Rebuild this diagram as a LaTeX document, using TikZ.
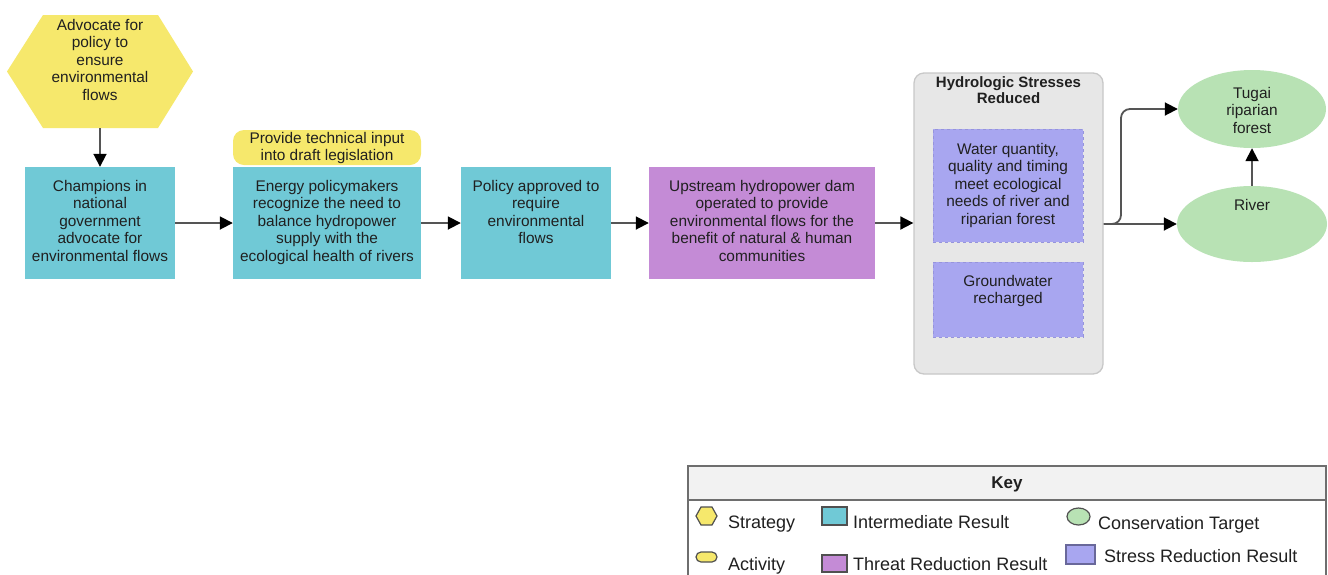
\documentclass[tikz,border=0pt]{standalone}
\usepackage{fontspec}
\setmainfont{Liberation Sans}
\usetikzlibrary{shapes.geometric,arrows.meta}

\definecolor{stratY}{RGB}{246,232,108}
\definecolor{interT}{RGB}{112,201,214}
\definecolor{threatP}{RGB}{196,139,214}
\definecolor{stressL}{RGB}{168,166,240}
\definecolor{stressD}{RGB}{150,148,220}
\definecolor{targetG}{RGB}{184,226,180}
\definecolor{groupF}{RGB}{231,231,231}
\definecolor{groupD}{RGB}{200,200,200}
\definecolor{ink}{RGB}{32,32,32}
\definecolor{wire}{RGB}{85,85,85}
\definecolor{keyD}{RGB}{110,110,110}
\definecolor{iconD}{RGB}{80,80,80}

\begin{document}
\begin{tikzpicture}[x=1pt,y=-1pt,
  shapebox/.style={rectangle, inner sep=0pt},
  bodytext/.style={font=\fontsize{15.4}{17.5}\selectfont, text=ink, align=center, inner sep=0pt, anchor=north},
  titletext/.style={font=\fontsize{15}{16.5}\selectfont\bfseries, text=ink, align=center, inner sep=0pt, anchor=north},
  keytext/.style={font=\fontsize{18}{20}\selectfont, text=ink, inner sep=0pt, anchor=base west},
  flow/.style={draw=wire, line width=1.8pt, -{Triangle[length=13pt,width=13pt,color=black]}},
  icon/.style={draw=iconD, line width=1.2pt}
]
\clip (0,0) rectangle (1328,574);
\fill[white] (0,0) rectangle (1328,574);

% strategy hexagon
\fill[stratY] (7,71.5) -- (43,15) -- (158,15) -- (193,71.5) -- (158,128) -- (43,128) -- cycle;
\node[shapebox, minimum width=186pt, minimum height=113pt] (strat) at (100,71.5) {};
\node[bodytext] (stratT) at (100,19) {Advocate for\\policy to\\ensure\\environmental\\flows};

% activity
\node[shapebox, fill=stratY, rounded corners=11pt, minimum width=188pt, minimum height=35pt] (act) at (327,147.5) {};
\node[bodytext] (actT) at (327,132) {Provide technical input\\into draft legislation};

% results chain
\node[shapebox, fill=interT, minimum width=150pt, minimum height=112pt] (champ) at (100,223) {};
\node[bodytext] (champT) at (100,180) {Champions in\\national\\government\\advocate for\\environmental flows};

\node[shapebox, fill=interT, minimum width=188pt, minimum height=112pt] (energy) at (327,223) {};
\node[bodytext] (energyT) at (327,180) {Energy policymakers\\recognize the need to\\balance hydropower\\supply with the\\ecological health of rivers};

\node[shapebox, fill=interT, minimum width=150pt, minimum height=112pt] (policy) at (536,223) {};
\node[bodytext] (policyT) at (536,180) {Policy approved to\\require\\environmental\\flows};

\node[shapebox, fill=threatP, minimum width=226pt, minimum height=112pt] (dam) at (762,223) {};
\node[bodytext] (damT) at (762,180) {Upstream hydropower dam\\operated to provide\\environmental flows for the\\benefit of natural \& human\\communities};

% stress group
\node[shapebox, fill=groupF, draw=groupD, line width=1.3pt, rounded corners=10pt, minimum width=189pt, minimum height=301pt] (grp) at (1008.5,223.5) {};
\node[titletext] (grpT) at (1008.5,76) {Hydrologic Stresses\\Reduced};

\node[shapebox, fill=stressL, draw=stressD, dashed, line width=0.6pt, minimum width=150pt, minimum height=113pt] (water) at (1008,185.5) {};
\node[bodytext] (waterT) at (1008,143) {Water quantity,\\quality and timing\\meet ecological\\needs of river and\\riparian forest};

\node[shapebox, fill=stressL, draw=stressD, dashed, line width=0.6pt, minimum width=150pt, minimum height=75pt] (ground) at (1008,299.5) {};
\node[bodytext] (groundT) at (1008,275) {Groundwater\\recharged};

% conservation targets
\node[ellipse, fill=targetG, inner sep=0pt, minimum width=148pt, minimum height=78pt] (tugai) at (1252,109) {};
\node[bodytext] (tugaiT) at (1252,87) {Tugai\\riparian\\forest};

\node[ellipse, fill=targetG, inner sep=0pt, minimum width=150pt, minimum height=76pt] (river) at (1252,224) {};
\node[bodytext] (riverT) at (1252,199) {River};

% connectors
\draw[flow] (strat.south) -- (champ.north);
\draw[flow] (champ.east) -- (energy.west);
\draw[flow] (energy.east) -- (policy.west);
\draw[flow] (policy.east) -- (dam.west);
\draw[flow] (dam.east) -- (grp.west |- dam.east);
\draw[flow] (grp.east |- river.west) -- (river.west);
\draw[flow, rounded corners=9pt] (grp.east |- river.west) -- (1121,224) |- (tugai.west);
\draw[flow] (river.north) -- (tugai.south);

% key
\fill[white!95!black] (688,466) rectangle (1326,500);
\draw[keyD, line width=1.3pt] (688,590) -- (688,466) -- (1326,466) -- (1326,590);
\draw[keyD, line width=1.3pt] (688,500) -- (1326,500);
\node[font=\fontsize{17}{19}\selectfont\bfseries, text=ink, inner sep=0pt] (keyT) at (1007,484) {Key};

\filldraw[icon, fill=stratY] (696,516) -- (701,507) -- (712,507) -- (717,516) -- (712,525) -- (701,525) -- cycle;
\node[shapebox, minimum width=21pt, minimum height=18pt] (kStrat) at (706.5,516) {};
\node[keytext] (kStratT) at (728,528) {Strategy};

\node[shapebox, icon, fill=stratY, rounded corners=5pt, minimum width=21pt, minimum height=10pt] (kAct) at (706.5,557) {};
\node[keytext] (kActT) at (728,570) {Activity};

\node[shapebox, icon, fill=interT, minimum width=25pt, minimum height=18pt] (kInter) at (834.5,516) {};
\node[keytext] (kInterT) at (853,528) {Intermediate Result};

\node[shapebox, icon, fill=threatP, minimum width=25pt, minimum height=17pt] (kThreat) at (834.5,563.5) {};
\node[keytext] (kThreatT) at (853,570) {Threat Reduction Result};

\node[ellipse, icon, fill=targetG, inner sep=0pt, minimum width=23pt, minimum height=17pt] (kTarget) at (1078.5,516.5) {};
\node[keytext] (kTargetT) at (1098,529) {Conservation Target};

\node[shapebox, icon, draw=stressD!70!black, fill=stressL, minimum width=29pt, minimum height=19pt] (kStress) at (1080.5,554.5) {};
\node[keytext] (kStressT) at (1104,562) {Stress Reduction Result};
\end{tikzpicture}
\end{document}
